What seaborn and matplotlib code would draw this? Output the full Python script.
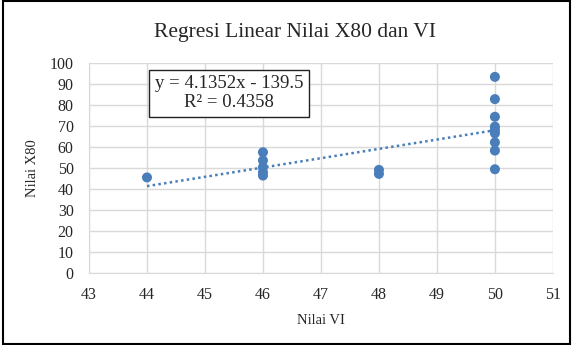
import numpy as np
import pandas as pd
import seaborn as sns
import matplotlib.pyplot as plt
from matplotlib.patches import Rectangle

# Nilai VI vs Nilai X80
nilai_vi = [44,
            46, 46, 46, 46, 46,
            48, 48,
            50, 50, 50, 50, 50, 50, 50, 50, 50]
nilai_x80 = [45.5,
             57.5, 53.6, 50.4, 48.0, 46.4,
             49.1, 47.2,
             93.4, 82.8, 74.4, 69.7, 68.1, 66.5, 62.2, 58.3, 49.4]
eq_text = "y = 4.1352x - 139.5\nR² = 0.4358"

df = pd.DataFrame({"Nilai VI": nilai_vi, "Nilai X80": nilai_x80})

sns.set_style("white")
plt.rcParams['font.family'] = ['Liberation Serif', 'DejaVu Serif']

blue = "#4a7ebb"
fig = plt.figure(figsize=(5.72, 3.45), dpi=100)
ax = fig.add_axes([0.1556, 0.2087, 0.811, 0.6087])

sns.regplot(data=df, x="Nilai VI", y="Nilai X80", ax=ax, ci=None,
            scatter_kws={"s": 52, "color": blue, "edgecolor": "none", "alpha": 1, "zorder": 3},
            line_kws={"color": blue, "linestyle": (0, (1, 1.3)), "linewidth": 1.8, "zorder": 2})

ax.set_xlim(43, 51)
ax.set_ylim(0, 100)
ax.set_xticks(range(43, 52))
ax.set_yticks(range(0, 101, 10))
ax.grid(True, color="#d9d9d9", linewidth=1)
ax.set_axisbelow(True)
for side in ["top", "right"]:
    ax.spines[side].set_visible(False)
ax.spines["bottom"].set_color("#d9d9d9")
ax.spines["left"].set_color("#d9d9d9")
ax.tick_params(axis="x", length=0, labelsize=11.5, pad=10)
ax.tick_params(axis="y", length=0, labelsize=11.5, pad=11)
ax.set_xlabel("Nilai VI", fontsize=10.5, labelpad=8)
ax.set_ylabel("Nilai X80", fontsize=10.5, labelpad=8)

fig.text(0.515, 0.905, "Regresi Linear Nilai X80 dan VI", ha="center", va="center", fontsize=15.5)

ax.text(0.302, 0.855, eq_text, transform=ax.transAxes, ha="center", va="center",
        fontsize=13.5, linespacing=1.15,
        bbox=dict(boxstyle="square,pad=0.3", facecolor="white", edgecolor="#222222", linewidth=1))

fig.patches.append(Rectangle((0.006, 0.004), 0.99, 0.992, transform=fig.transFigure,
                             fill=False, edgecolor="black", linewidth=1.5))

fig.savefig("out.png", dpi=100)
